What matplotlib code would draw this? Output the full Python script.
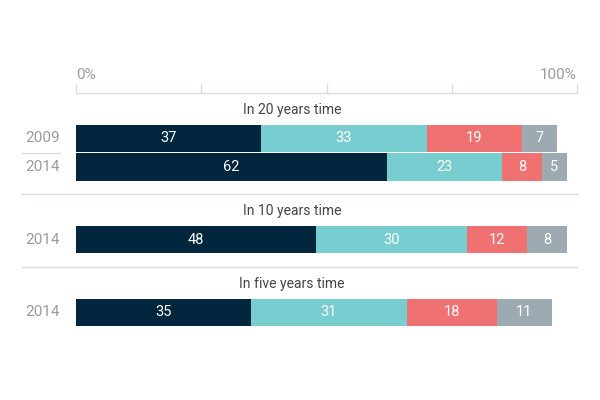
import numpy as np
import matplotlib
matplotlib.use("Agg")
from matplotlib import pyplot as plt

plt.rcParams['font.family'] = ['Roboto', 'DejaVu Sans']

# data: one row per bar, segments in order
sections = ['In 20 years time', 'In 20 years time', 'In 10 years time', 'In five years time']
years = ['2009', '2014', '2014', '2014']
seg1 = [37, 62, 48, 35]
seg2 = [33, 23, 30, 31]
seg3 = [19, 8, 12, 18]
seg4 = [7, 5, 8, 11]
colors = ['#02263d', '#78cdd0', '#f07172', '#9eaab1']

# layout in pixel rows (y grows downwards)
bar_y = [138.5, 167, 239.5, 312.5]
bar_h = 27.5
title_y = {'In 20 years time': 110, 'In 10 years time': 211, 'In five years time': 284}

fig = plt.figure(figsize=(6, 4), dpi=100)
ax = fig.add_axes([76 / 600, 0, 501 / 600, 1])
ax.set_xlim(0, 100)
ax.set_ylim(400, 0)
ax.axis('off')

px = 100 / 501  # data units per pixel in x

segs = [seg1, seg2, seg3, seg4]
left = np.zeros(len(years))
for vals, c in zip(segs, colors):
    vals = np.array(vals, dtype=float)
    ax.barh(bar_y, vals, left=left, height=bar_h, color=c, linewidth=0)
    for y, l, v in zip(bar_y, left, vals):
        ax.text(l + v / 2, y, f'{int(v)}', ha='center', va='center',
                color='white', fontsize=10.5)
    left += vals

for y, lab in zip(bar_y, years):
    ax.text(-16 * px, y, lab, ha='right', va='center', color='#9a9aa2',
            fontsize=11, clip_on=False)

for t, y in title_y.items():
    ax.text((292 - 76) * px, y, t, ha='center', va='center',
            color='#444444', fontsize=10)

# top axis with ticks
grid_c = '#d7dde3'
ax.plot([0, 100], [93, 93], color=grid_c, lw=1, clip_on=False)
for x in [0, 25, 50, 75, 100]:
    ax.plot([x, x], [84, 93], color=grid_c, lw=1, clip_on=False)
ax.text(0, 75, '0%', ha='left', va='center', color='#9a9aa2', fontsize=11)
ax.text(100, 75, '100%', ha='right', va='center', color='#9a9aa2', fontsize=11)

# separators
ax.plot([-54 * px, -16 * px], [152.5, 152.5], color=grid_c, lw=1, clip_on=False)
for y in [194, 267]:
    ax.plot([-54 * px, 100], [y, y], color=grid_c, lw=1, clip_on=False)

fig.savefig('out.png', dpi=100, facecolor='white')
